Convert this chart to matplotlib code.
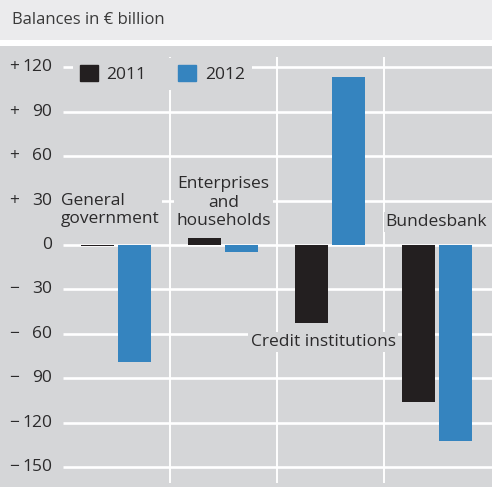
import matplotlib.pyplot as plt
from matplotlib.patches import Patch
import numpy as np

plt.rcParams['font.family'] = ['Open Sans', 'DejaVu Sans']

# data (balances in EUR billion)
sectors = ["General\ngovernment", "Enterprises\nand\nhouseholds", "Credit institutions", "Bundesbank"]
vals_2011 = [-1, 4.5, -52.5, -106]
vals_2012 = [-79, -4.5, 113.5, -132.5]
yticks = [120, 90, 60, 30, 0, -30, -60, -90, -120, -150]

bg = "#d5d6d8"
band = "#ebebed"
black = "#231f20"
blue = "#3584bf"
txt = "#2b2a2b"

W, H = 492, 487
fig = plt.figure(figsize=(W / 100, H / 100), dpi=100, facecolor="white")

# title band
tax = fig.add_axes([0, 1 - 40 / H, 1, 40 / H])
tax.set_facecolor(band)
tax.set_xticks([]); tax.set_yticks([])
for s in tax.spines.values():
    s.set_visible(False)
tax.text(12 / W, 0.5, "Balances in € billion", transform=tax.transAxes,
         ha="left", va="center", fontsize=12, color="#3a3a3a")

# main panel
ax = fig.add_axes([0, 0, 1, (H - 46) / H])
ax.set_facecolor(bg)
for s in ax.spines.values():
    s.set_visible(False)
ax.set_xticks([]); ax.set_yticks([])

ppu = 44.4 / 30  # pixels per billion
y0 = 245
ax.set_ylim(-(H - y0) / ppu, (y0 - 46) / ppu)
pw = 107
ax.set_xlim(-0.5 - 63 / pw, 3.5 + 1 / pw)

x = np.arange(len(sectors))
# grid
ax.hlines(yticks, -0.5, 3.6, color="white", lw=1.9, zorder=1)
ax.vlines([0.5, 1.5, 2.5], -161, 127, color="white", lw=1.4, zorder=1)

w = 0.31
ax.bar(x - 0.175, vals_2011, width=w, color=black, zorder=2, label="2011")
ax.bar(x + 0.17, vals_2012, width=w, color=blue, zorder=2, label="2012")

# y tick labels
for t in yticks:
    if t > 0:
        sign = "+"
    elif t < 0:
        sign = "\u2212"
    else:
        sign = ""
    ax.text(-0.5 - 11 / pw, t, str(abs(t)), ha="right", va="center",
            fontsize=12.5, color=txt)
    if sign:
        ax.text(-0.5 - 54 / pw, t, sign, ha="left", va="center",
                fontsize=12.5, color=txt)

# sector labels
box = dict(facecolor=bg, edgecolor="none", pad=1.5)
ax.text(-0.52, 23.5, sectors[0], ha="left", va="center", fontsize=12.5,
        color=txt, linespacing=1.2, bbox=box, zorder=3)
ax.text(1.0, 28.5, sectors[1], ha="center", va="center", fontsize=12.5,
        color=txt, linespacing=1.2, bbox=box, zorder=3)
ax.text(1.93, -65.5, sectors[2], ha="center", va="center", fontsize=12.5,
        color=txt, bbox=box, zorder=3)
ax.text(2.99, 15.5, sectors[3], ha="center", va="center", fontsize=12.5,
        color=txt, bbox=box, zorder=3)

handles = [Patch(color=black, label="2011"), Patch(color=blue, label="2012")]
leg = ax.legend(handles=handles, ncol=2, loc="upper left",
                bbox_to_anchor=(64 / W, 1 - 3 / (H - 46)),
                fontsize=12.5, frameon=True, facecolor=bg, edgecolor="none",
                framealpha=1, fancybox=False, handlelength=1.05, handleheight=1.05,
                handletextpad=0.5, columnspacing=1.8, borderpad=0.4)
for t in leg.get_texts():
    t.set_color(txt)
leg.set_zorder(4)

fig.savefig("out.png", dpi=100, facecolor="white")
